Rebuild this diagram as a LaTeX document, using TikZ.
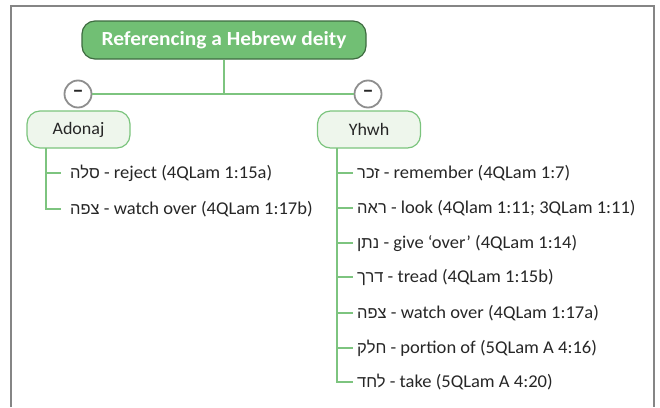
\documentclass[tikz,border=0pt]{standalone}
\usepackage{fontspec}
\setmainfont{Carlito}
\newfontfamily\titlefont[FakeStretch=1.07]{Carlito}
\newfontfamily\itemfont[FakeStretch=1.03]{Carlito}
\newfontfamily\hebfont[Script=Hebrew]{Liberation Sans}
\TeXXeTstate=1
\newcommand{\heb}[1]{{\hebfont\fontsize{16.5}{19}\selectfont\beginR #1\endR}}
\definecolor{rootfill}{HTML}{71BF74}
\definecolor{rootedge}{HTML}{3E6B40}
\definecolor{subfill}{HTML}{EEF6EC}
\definecolor{subedge}{HTML}{7BC47D}
\definecolor{linkgreen}{HTML}{7DC47F}
\definecolor{framegray}{HTML}{858585}
\definecolor{circgray}{HTML}{8E8E8E}
\definecolor{txt}{HTML}{262626}
\begin{document}
\begin{tikzpicture}[x=1pt,y=-1pt,
  rootbox/.style={draw=rootedge,fill=rootfill,line width=1.2pt,rounded corners=13pt,
    minimum width=284pt,minimum height=38pt,text=white,
    font=\titlefont\fontsize{20}{22}\selectfont\bfseries,inner sep=0pt},
  subbox/.style={draw=subedge,fill=subfill,line width=1.2pt,rounded corners=13pt,
    minimum width=103pt,minimum height=37pt,text=txt,
    font=\itemfont\fontsize{17.5}{20}\selectfont,inner sep=0pt},
  togglec/.style={circle,draw=circgray,fill=white,line width=1.8pt,minimum size=27pt,
    inner sep=0pt,text=txt,font=\fontsize{22}{22}\selectfont\bfseries},
  item/.style={anchor=west,inner sep=0pt,text=txt,text height=12pt,text depth=1pt,
    font=\itemfont\fontsize{18}{21}\selectfont},
  link/.style={draw=linkgreen,line width=2pt},
]
\useasboundingbox (0,0) rectangle (660,407);
\draw[framegray,line width=1.4pt] (11,407) -- (11,6) -- (654,6) -- (654,407);

\node[rootbox] (root) at (224,40) {Referencing a Hebrew deity};
\node[togglec] (c1) at (78,94) {–};
\node[togglec] (c2) at (368,94) {–};
\draw[link] (root.south) -- (root.south |- c1);
\draw[link] (c1) -- (c2);
\node[subbox] (ad) at (78.5,129.5) {Adonaj};
\node[subbox] (yh) at (369,129.5) {Yhwh};

% Adonaj items
\node[item] (a1) at (70,173) {\heb{סלה} - reject (4QLam 1:15a)};
\node[item] (a2) at (70,209) {\heb{צפה} - watch over (4QLam 1:17b)};
\coordinate (at) at (46,148);
\draw[link] (at) |- ([xshift=-9pt]a2.west);
\draw[link] (at |- a1.west) -- ([xshift=-9pt]a1.west);

% Yhwh items
\node[item] (y1) at (357,173) {\heb{זכר} - remember (4QLam 1:7)};
\node[item] (y2) at (357,208) {\heb{ראה} - look (4Qlam 1:11; 3QLam 1:11)};
\node[item] (y3) at (357,243) {\heb{נתן} - give ‘over’ (4QLam 1:14)};
\node[item] (y4) at (357,277) {\heb{דרך} - tread (4QLam 1:15b)};
\node[item] (y5) at (357,313) {\heb{צפה} - watch over (4QLam 1:17a)};
\node[item] (y6) at (357,348) {\heb{חלק} - portion of (5QLam A 4:16)};
\node[item] (y7) at (357,382) {\heb{לחד} - take (5QLam A 4:20)};
\coordinate (yt) at (337,148);
\draw[link] (yt) |- ([xshift=-4pt]y7.west);
\foreach \n in {y1,y2,y3,y4,y5,y6}
  \draw[link] (yt |- \n.west) -- ([xshift=-4pt]\n.west);
\end{tikzpicture}
\end{document}
